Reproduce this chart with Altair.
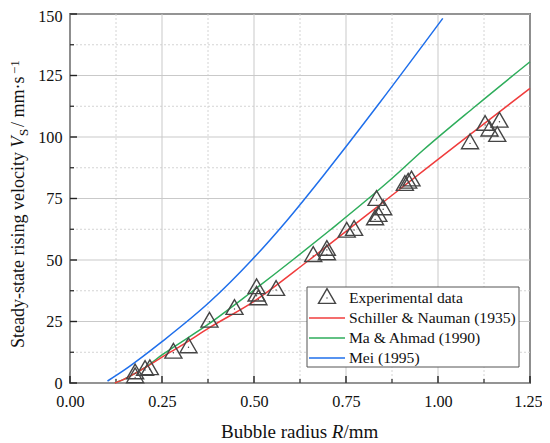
import altair as alt
import pandas as pd

# ---------------- data ----------------
exp_R = [0.177, 0.177, 0.204, 0.217, 0.281, 0.322, 0.379, 0.447, 0.507, 0.507, 0.512,
         0.560, 0.661, 0.698, 0.698, 0.752, 0.772, 0.829, 0.838, 0.851, 0.833,
         0.910, 0.919, 0.928, 1.087, 1.128, 1.140, 1.161, 1.167]
exp_V = [2.3, 3.9, 5.3, 5.6, 12.3, 14.5, 24.9, 30.1, 38.5, 35.5, 34.0,
         37.8, 51.6, 54.1, 52.3, 61.5, 62.2, 66.5, 67.9, 70.6, 74.4,
         80.5, 81.4, 82.3, 97.4, 104.9, 102.6, 100.4, 106.2]

sn_R = [0.122, 0.15, 0.177, 0.2, 0.25, 0.3, 0.38, 0.5, 0.65, 0.8, 0.98, 1.1, 1.25]
sn_V = [0.0, 1.8, 3.9, 5.9, 10.5, 15.0, 22.6, 33.2, 50.0, 67.5, 88.6, 102.5, 119.8]

ma_R = [0.122, 0.15, 0.177, 0.2, 0.25, 0.38, 0.494, 0.611, 0.707, 0.87, 0.96, 1.1, 1.25]
ma_V = [0.0, 1.8, 3.9, 5.9, 11.4, 24.3, 37.1, 50.7, 62.2, 82.5, 94.7, 112.3, 130.6]

mei_R = [0.102, 0.15, 0.2, 0.25, 0.38, 0.494, 0.589, 0.7, 0.842, 1.013]
mei_V = [0.8, 5.5, 11.0, 16.8, 33.0, 50.0, 66.0, 86.5, 114.0, 148.2]

x_major = [0.0, 0.25, 0.5, 0.75, 1.0, 1.25]
x_minor = [0.125, 0.375, 0.625, 0.875, 1.125]
y_major = [0, 25, 50, 75, 100, 125, 150]
y_minor = [12.5, 37.5, 62.5, 87.5, 112.5, 137.5]

legend_labels = ["Experimental data", "Schiller & Nauman (1935)", "Ma & Ahmad (1990)", "Mei (1995)"]
line_colors = ["#F03C3C", "#2EAD5B", "#1F6FEB"]

# ---------------- styling ----------------
W, H = 460, 369
FONT = "Liberation Serif, Times New Roman, Times, DejaVu Serif, serif"
INK = "#111111"
MARK_INK = "#454545"

xs = alt.Scale(domain=[0, 1.25], nice=False, zero=False)
ys = alt.Scale(domain=[0, 150], nice=False, zero=False)
x_axis = alt.Axis(values=x_major, format=".2f", title=None, labelFlush=False,
                  labelPadding=10, grid=False, ticks=False, domain=False,
                  labelFont=FONT, labelFontSize=16.2, labelColor=INK,
                  labelOffset={"condition": {"test": "datum.value >= 1.25", "value": -2}, "value": 0})
y_axis = alt.Axis(values=y_major, format="d", title=None, labelFlush=False,
                  labelPadding=8, grid=False, ticks=False, domain=False,
                  labelFont=FONT, labelFontSize=16.2, labelColor=INK,
                  labelOffset={"condition": {"test": "datum.value >= 150", "value": 2}, "value": 0})


def X(field="R"):
    return alt.X(f"{field}:Q", scale=xs, axis=x_axis)


def Y(field="V"):
    return alt.Y(f"{field}:Q", scale=ys, axis=y_axis)


one = pd.DataFrame({"k": [0]})

# grid lines
gx_major = alt.Chart(pd.DataFrame({"R": x_major})).mark_rule(color="#c9c9c9", strokeWidth=1).encode(x=X())
gx_minor = alt.Chart(pd.DataFrame({"R": x_minor})).mark_rule(color="#d4d4d4", strokeWidth=1, strokeDash=[2, 2]).encode(x=X())
gy_major = alt.Chart(pd.DataFrame({"V": y_major})).mark_rule(color="#c9c9c9", strokeWidth=1).encode(y=Y())
gy_minor = alt.Chart(pd.DataFrame({"V": y_minor})).mark_rule(color="#d4d4d4", strokeWidth=1, strokeDash=[2, 2]).encode(y=Y())

# inward ticks
tx_major = alt.Chart(pd.DataFrame({"R": x_major})).mark_rule(color="#222", strokeWidth=1.4).encode(
    x=X(), y=alt.value(H), y2=alt.value(H - 7))
tx_minor = alt.Chart(pd.DataFrame({"R": x_minor})).mark_rule(color="#222", strokeWidth=1.2).encode(
    x=X(), y=alt.value(H), y2=alt.value(H - 4))
ty_major = alt.Chart(pd.DataFrame({"V": y_major})).mark_rule(color="#222", strokeWidth=1.4).encode(
    y=Y(), x=alt.value(0), x2=alt.value(7))
ty_minor = alt.Chart(pd.DataFrame({"V": y_minor})).mark_rule(color="#222", strokeWidth=1.2).encode(
    y=Y(), x=alt.value(0), x2=alt.value(4))


def curve(Rs, Vs, color):
    return alt.Chart(pd.DataFrame({"R": Rs, "V": Vs})).mark_line(
        color=color, strokeWidth=1.5, interpolate="monotone").encode(x=X(), y=Y())


l_mei = curve(mei_R, mei_V, line_colors[2])
l_ma = curve(ma_R, ma_V, line_colors[1])
l_sn = curve(sn_R, sn_V, line_colors[0])

exp_df = pd.DataFrame({"R": exp_R, "V": exp_V})
tri = alt.Chart(exp_df).mark_point(shape="triangle-up", size=290, filled=False, stroke=MARK_INK,
                                   strokeWidth=1.4, opacity=1, yOffset=-2).encode(x=X(), y=Y())
dots = alt.Chart(exp_df).mark_point(shape="circle", size=2, filled=True, color=MARK_INK, opacity=1).encode(x=X(), y=Y())

# legend (manual box)
LX0, LX1, LY0, LY1 = 237, 449, 273, 353
row_y = [284, 304, 324, 344]
leg_box = alt.Chart(one).mark_rect(fill="white", stroke="#555555", strokeWidth=1).encode(
    x=alt.value(LX0), x2=alt.value(LX1), y=alt.value(LY0), y2=alt.value(LY1))
leg_layers = [leg_box,
              alt.Chart(one).mark_point(shape="triangle-up", size=290, filled=False, stroke=MARK_INK,
                                        strokeWidth=1.4, opacity=1, yOffset=-2).encode(
                  x=alt.value(257), y=alt.value(row_y[0])),
              alt.Chart(one).mark_point(shape="circle", size=2, filled=True, color=MARK_INK, opacity=1).encode(
                  x=alt.value(257), y=alt.value(row_y[0]))]
for i, col in enumerate(line_colors):
    leg_layers.append(alt.Chart(one).mark_rule(color=col, strokeWidth=1.5).encode(
        x=alt.value(239), x2=alt.value(275), y=alt.value(row_y[i + 1])))
for i, lab in enumerate(legend_labels):
    leg_layers.append(alt.Chart(one).mark_text(align="left", baseline="middle", font=FONT, fontSize=15.6,
                                               color=INK).encode(
        x=alt.value(279), y=alt.value(row_y[i]), text=alt.value(lab)))

# axis titles composed of styled pieces
def txt(s, x, y, size, italic=False, angle=0):
    kw = dict(align="left", baseline="alphabetic", font=FONT, fontSize=size, color=INK)
    if italic:
        kw["fontStyle"] = "italic"
    if angle:
        kw["angle"] = angle
    return alt.Chart(one).mark_text(**kw).encode(x=alt.value(x), y=alt.value(y), text=alt.value(s))

titles = [
    txt("Bubble radius ", 151, 423.5, 19),
    txt("R", 261.8, 423.5, 19, italic=True),
    txt("/mm", 273.4, 423.5, 19),
    txt("Steady-state rising velocity ", -46, 334, 18, angle=270),
    txt("V", -46, 133.5, 18, italic=True, angle=270),
    txt("S", -42, 122, 13, angle=270),
    txt("/ mm·s", -46, 113, 18, angle=270),
    txt("\u22121", -51, 60, 13, angle=270),
]

chart = alt.layer(
    gx_minor, gy_minor, gx_major, gy_major,
    tx_major, tx_minor, ty_major, ty_minor,
    l_mei, l_ma, l_sn, tri, dots,
    *leg_layers, *titles
).properties(
    width=W, height=H, autosize="none",
    padding={"left": 62, "top": 6, "right": 12, "bottom": 58}
).configure_view(
    stroke="#2a2a2a", strokeWidth=1.6
)

chart.save("out.html", embed_options={"renderer": "svg", "actions": False})
